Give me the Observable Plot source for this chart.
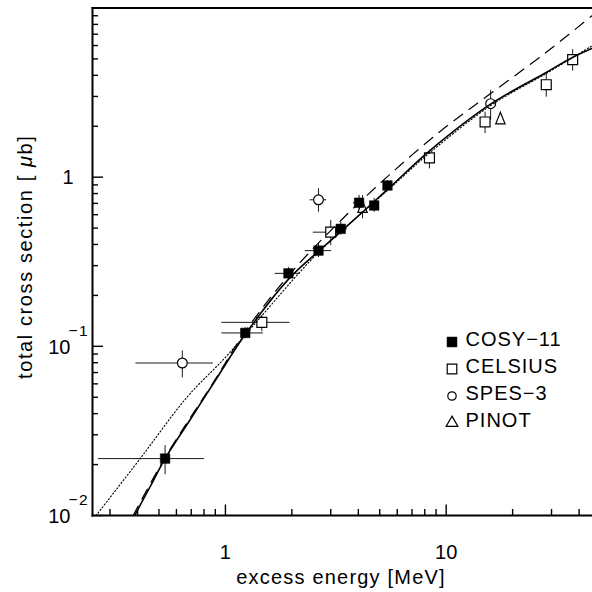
<!DOCTYPE html>
<html>
<head>
<meta charset="utf-8">
<script src="https://cdn.jsdelivr.net/npm/d3@7"></script>
<script src="https://cdn.jsdelivr.net/npm/@observablehq/plot@0.6"></script>
<style>
html,body{margin:0;padding:0;background:#fff;}
#chart svg{display:block;}
</style>
</head>
<body>
<div id="chart"></div>
<script>
// ---------------- data (excess energy in MeV, cross section in µb) ----------------
const cosy11 = [
  {e:0.533, s:0.0217, eLo:0.266, eHi:0.803, sLo:0.0174, sHi:0.0259},
  {e:1.23,  s:0.120,  eLo:0.963, eHi:1.486, sLo:0.111,  sHi:0.129},
  {e:1.93,  s:0.270,  eLo:1.68,  eHi:2.18,  sLo:0.250,  sHi:0.292},
  {e:2.64,  s:0.368,  eLo:2.30,  eHi:3.03,  sLo:0.335,  sHi:0.404},
  {e:3.33,  s:0.495,  eLo:3.12,  eHi:3.57,  sLo:0.455,  sHi:0.540},
  {e:4.03,  s:0.706,  eLo:3.80,  eHi:4.28,  sLo:0.640,  sHi:0.780},
  {e:4.72,  s:0.680,  eLo:4.58,  eHi:4.86,  sLo:0.620,  sHi:0.750},
  {e:5.42,  s:0.893,  eLo:5.28,  eHi:5.56,  sLo:0.840,  sHi:0.950}
];
const celsius = [
  {e:1.462, s:0.1386, eLo:0.963, eHi:1.96, sLo:0.122, sHi:0.152},
  {e:3.00,  s:0.473,  eLo:2.50,  eHi:3.30, sLo:0.394, sHi:0.555},
  {e:8.40,  s:1.30,   eLo:null,  eHi:null, sLo:1.12,  sHi:1.44},
  {e:15.0,  s:2.12,   eLo:null,  eHi:null, sLo:1.81,  sHi:2.42},
  {e:28.4,  s:3.52,   eLo:null,  eHi:null, sLo:2.97,  sHi:4.05},
  {e:37.4,  s:4.95,   eLo:null,  eHi:null, sLo:4.24,  sHi:5.67}
];
const spes3 = [
  {e:0.638, s:0.0797, eLo:0.393, eHi:0.882, sLo:0.065, sHi:0.094},
  {e:2.64,  s:0.735,  eLo:2.42,  eHi:2.88,  sLo:0.621, sHi:0.854},
  {e:15.9,  s:2.72,   eLo:null,  eHi:null,  sLo:2.17,  sHi:3.26}
];
const pinot = [
  {e:4.18, s:0.665, eLo:null, eHi:null, sLo:0.567, sHi:0.779},
  {e:17.6, s:2.22,  eLo:null, eHi:null, sLo:2.10,  sHi:2.42}
];

// model curves
const solidE  = [0.388, 0.456, 0.533, 0.692, 0.898, 1.237, 1.923, 2.63, 3.334, 5.42, 8.46, 15.94, 28.39, 37.5, 46];
const solidS  = [0.0100, 0.0148, 0.0217, 0.0368, 0.0626, 0.119, 0.248, 0.363, 0.477, 0.846, 1.44, 2.71, 4.16, 5.11, 5.78];
const dashedE = [0.382, 0.533, 0.898, 1.228, 1.965, 3.334, 5.386, 9.39, 15.94, 28.39, 46];
const dashedS = [0.0100, 0.0220, 0.0635, 0.122, 0.269, 0.5545, 1.00, 1.864, 3.13, 5.47, 9.05];
const dottedE = [0.2595, 0.4107, 0.6685, 1.0, 1.406, 2.63, 5.42, 8.46, 15.94, 28.39, 37.5, 46];
const dottedS = [0.0100, 0.02166, 0.0499, 0.0861, 0.143, 0.358, 0.834, 1.40, 2.655, 4.10, 5.11, 6.0];

// axes
const xMajorTicks = [1, 10];
const xMinorTicks = [0.3,0.4,0.5,0.6,0.7,0.8,0.9, 2,3,4,5,6,7,8,9, 20,30,40];
const yMajorTicks = [0.01, 0.1, 1];
const yMinorTicks = [0.02,0.03,0.04,0.05,0.06,0.07,0.08,0.09, 0.2,0.3,0.4,0.5,0.6,0.7,0.8,0.9, 2,3,4,5,6,7,8,9];
const xTickLabels = [{v:1, text:"1"}, {v:10, text:"10"}];
const yTickLabels = [{v:0.01, base:"10", exp:"−2"}, {v:0.1, base:"10", exp:"−1"}, {v:1, base:"1", exp:""}];
const xTitle = "excess energy [MeV]";
const yTitle = "total cross section [ μb]";
const legendNames = ["COSY−11", "CELSIUS", "SPES−3", "PINOT"];

// ---------------- build ----------------
const W = 592, H = 592, ML = 92, MR = 0, MT = 7.5, MB = 77;
const frameW = W - ML - MR, frameH = H - MT - MB;
const font = "Liberation Sans, Arial, Helvetica, sans-serif";
const tallTriangle = {
  draw(ctx, size) {
    const r = Math.sqrt(size / Math.PI);
    ctx.moveTo(0, -1.25 * r);
    ctx.lineTo(0.93 * r, 1.05 * r);
    ctx.lineTo(-0.93 * r, 1.05 * r);
    ctx.closePath();
  }
};
const toRows = (E, S) => E.map((e, i) => ({e, s: S[i]}));
const solid = toRows(solidE, solidS);
const dashed = toRows(dashedE, dashedS);
const dotted = toRows(dottedE, dottedS);

const allPts = [...cosy11, ...celsius, ...spes3, ...pinot];
const hBars = allPts.filter(d => d.eLo != null);
const vBars = allPts.filter(d => d.sLo != null);

const barStyle = {stroke: "#1a1a1a", strokeWidth: 1};
const openStyle = {fill: "none", stroke: "black", strokeWidth: 1.2};
const tickStyle = {stroke: "black", strokeWidth: 1.4};
const txt = {fontSize: 20, fill: "black", lineAnchor: "middle"};
const minorLen = 6, xMajorLen = 10.5, yMajorLen = 11;

const legendSymbols = [
  {symbol: "square", r: 5.6, fill: "black", stroke: "black", strokeWidth: 0.5},
  {symbol: "square", r: 5.4, fill: "none", stroke: "black", strokeWidth: 1.2},
  {symbol: "circle", r: 4.2, fill: "none", stroke: "black", strokeWidth: 1.2},
  {symbol: "triangle", r: 4.4, fill: "none", stroke: "black", strokeWidth: 1.2}
];

const chart = Plot.plot({
  width: W,
  height: H,
  marginLeft: ML,
  marginRight: MR,
  marginTop: MT,
  marginBottom: MB,
  x: {type: "log", domain: [0.25, 46], axis: null},
  y: {type: "log", domain: [0.01, 10], axis: null},
  style: {fontFamily: font, fontSize: "20px", color: "black", background: "white"},
  marks: [
    // error bars
    Plot.ruleY(hBars, {y: "s", x1: "eLo", x2: "eHi", ...barStyle}),
    Plot.ruleX(vBars, {x: "e", y1: "sLo", y2: "sHi", ...barStyle}),
    // white underlay for open markers (hide bars inside)
    Plot.dot(celsius, {x: "e", y: "s", symbol: "square", r: 5.6, fill: "white", stroke: "none"}),
    Plot.dot(spes3, {x: "e", y: "s", symbol: "circle", r: 4.9, fill: "white", stroke: "none"}),
    Plot.dot(pinot, {x: "e", y: "s", symbol: tallTriangle, r: 5, fill: "white", stroke: "none"}),
    // curves
    Plot.line(dotted, {x: "e", y: "s", curve: "catmull-rom", stroke: "black", strokeWidth: 1.1, strokeDasharray: "1.2,2.2", clip: true}),
    Plot.line(dashed, {x: "e", y: "s", curve: "catmull-rom", stroke: "black", strokeWidth: 1.2, strokeDasharray: "11,8", clip: true}),
    Plot.line(solid, {x: "e", y: "s", curve: "catmull-rom", stroke: "black", strokeWidth: 1.6, clip: true}),
    // markers
    Plot.dot(cosy11, {x: "e", y: "s", symbol: "square", r: 5.4, fill: "black", stroke: "black", strokeWidth: 0.5}),
    Plot.dot(celsius, {x: "e", y: "s", symbol: "square", r: 5.6, ...openStyle}),
    Plot.dot(spes3, {x: "e", y: "s", symbol: "circle", r: 4.9, ...openStyle}),
    Plot.dot(pinot, {x: "e", y: "s", symbol: tallTriangle, r: 5, ...openStyle}),
    // inward ticks (ticks span the frame, inset leaves a short stub at the axis)
    Plot.tickX(xMinorTicks, {x: d => d, insetTop: frameH - minorLen, ...tickStyle}),
    Plot.tickX(xMajorTicks, {x: d => d, insetTop: frameH - xMajorLen, ...tickStyle}),
    Plot.tickY(yMinorTicks, {y: d => d, insetRight: frameW - minorLen, ...tickStyle}),
    Plot.tickY(yMajorTicks, {y: d => d, insetRight: frameW - yMajorLen, ...tickStyle}),
    // frame (top, left, bottom)
    Plot.frame({anchor: "top", stroke: "black", strokeWidth: 2}),
    Plot.frame({anchor: "left", stroke: "black", strokeWidth: 2}),
    Plot.frame({anchor: "bottom", stroke: "black", strokeWidth: 2}),
    // tick labels
    Plot.text(xTickLabels, {x: "v", text: "text", frameAnchor: "bottom", dy: 36.7, textAnchor: "middle", ...txt}),
    Plot.text(yTickLabels.filter(d => d.exp), {y: "v", text: "base", frameAnchor: "left", dx: -22, dy: 1, textAnchor: "end", ...txt}),
    Plot.text(yTickLabels.filter(d => d.exp), {y: "v", text: "exp", frameAnchor: "left", dx: -24, dy: -15, textAnchor: "start", ...txt, fontSize: 15.5}),
    Plot.text(yTickLabels.filter(d => !d.exp), {y: "v", text: "base", frameAnchor: "left", dx: -19, textAnchor: "end", ...txt}),
    // axis titles
    Plot.text([xTitle], {text: d => d, frameAnchor: "bottom", dx: -1.5, dy: 62, textAnchor: "middle", ...txt}),
    Plot.text([yTitle], {text: d => d, frameAnchor: "left", dx: -67, dy: -5, rotate: -90, textAnchor: "middle", ...txt}),
    // legend
    ...legendNames.map((name, i) => Plot.text([name], {text: d => d, frameAnchor: "top-left", dx: 373, dy: 331.5 + 27 * i, textAnchor: "start", ...txt})),
    ...legendSymbols.map((s, i) => Plot.dot([0], {frameAnchor: "top-left", dx: 359.5, dy: 334 + 27 * i, ...s}))
  ]
});

document.getElementById("chart").appendChild(chart);

// text refinements: letter spacing and italic mu
chart.querySelectorAll("text").forEach(t => {
  const c = t.textContent;
  if (c === xTitle) t.style.letterSpacing = "1.2px";
  if (legendNames.includes(c)) t.style.letterSpacing = "1px";
  if (c.startsWith("−")) t.style.letterSpacing = "1.5px";
  if (c === yTitle) {
    t.style.letterSpacing = "1.6px";
    const ns = "http://www.w3.org/2000/svg";
    const i = c.indexOf("μ");
    t.textContent = "";
    const a = document.createElementNS(ns, "tspan"); a.textContent = c.slice(0, i);
    const m = document.createElementNS(ns, "tspan"); m.textContent = "μ"; m.setAttribute("font-style", "italic");
    const b = document.createElementNS(ns, "tspan"); b.textContent = c.slice(i + 1);
    t.append(a, m, b);
  }
});
</script>
</body>
</html>
